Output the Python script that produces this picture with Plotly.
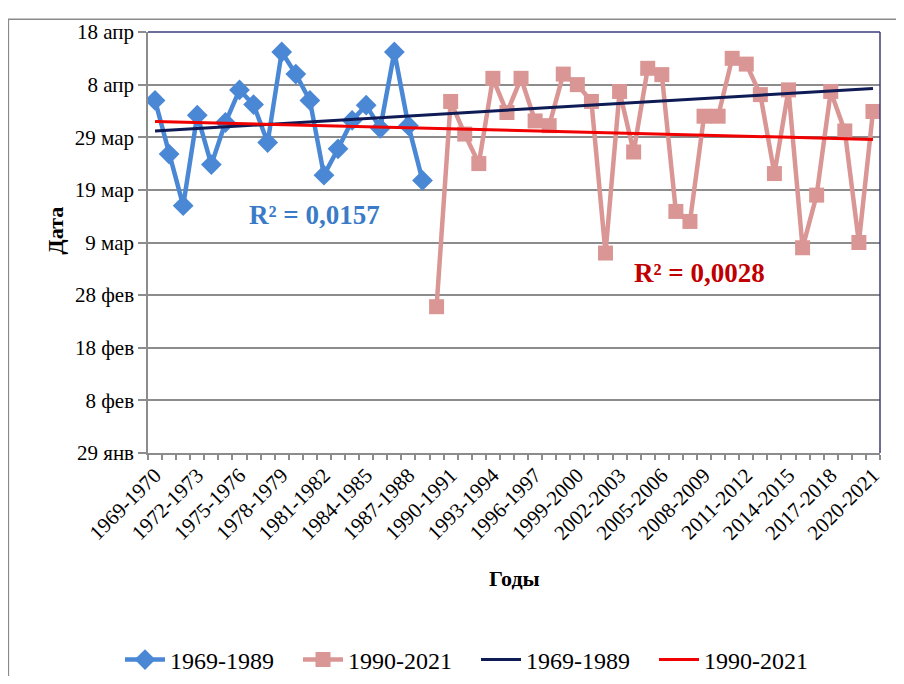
import numpy as np
import plotly.graph_objects as go

# Categories: seasons 1969-1970 ... 2020-2021
seasons = [f"{y}-{y+1}" for y in range(1969, 2021)]

# Y axis: days counted from 29 Jan (0) to 18 Apr (80)
y_tickvals = [0, 10, 20, 30, 40, 50, 60, 70, 80]
y_ticktext = ["29 янв", "8 фев", "18 фев", "28 фев", "9 мар", "19 мар", "29 мар", "8 апр", "18 апр"]

# Series 1969-1989 (days after 29 Jan)
early_vals = [67.0, 56.8, 47.0, 64.2, 54.8, 62.8, 69.0, 66.2, 59.0, 76.2,
              72.0, 67.0, 52.8, 57.8, 63.2, 66.1, 61.7, 76.2, 62.2, 51.8]
# Series 1990-2021
late_vals = [27.8, 66.8, 60.6, 55.0, 71.2, 64.7, 71.2, 63.1, 62.2, 72.0,
             70.0, 66.8, 38.0, 68.7, 57.2, 73.1, 71.9, 45.9, 44.0, 64.0,
             64.0, 75.0, 73.9, 68.1, 53.1, 69.0, 39.0, 49.0, 68.7, 61.2,
             40.0, 64.9]

legend_names = ["1969-1989", "1990-2021", "1969-1989", "1990-2021"]
r2_texts = ["R² = 0,0157", "R² = 0,0028"]

n = len(seasons)
x_all = np.arange(n)
x_early = np.arange(len(early_vals))
x_late = np.arange(len(early_vals), len(early_vals) + len(late_vals))

# Linear trends (Excel-style, extended over the whole axis)
pe = np.polyfit(x_early, early_vals, 1)
pl = np.polyfit(x_late, late_vals, 1)
trend_e = np.polyval(pe, x_all)
trend_l = np.polyval(pl, x_all)

FONT = "'Liberation Serif', 'Times New Roman', Times, serif"
BLUE = "#4A88D6"
PINK = "#DA9694"
NAVY = "#0E1B55"
RED = "#F00000"
GRID = "#8C8C8C"

fig = go.Figure()
fig.add_trace(go.Scatter(x=x_early, y=early_vals, mode="lines+markers", name=legend_names[0],
                         line=dict(color=BLUE, width=4.5),
                         marker=dict(symbol="diamond", size=16, color=BLUE)))
fig.add_trace(go.Scatter(x=x_late, y=late_vals, mode="lines+markers", name=legend_names[1],
                         line=dict(color=PINK, width=4.5),
                         marker=dict(symbol="square", size=15, color=PINK)))
fig.add_trace(go.Scatter(x=x_all, y=trend_e, mode="lines", name=legend_names[2],
                         line=dict(color=NAVY, width=3)))
fig.add_trace(go.Scatter(x=x_all, y=trend_l, mode="lines", name=legend_names[3],
                         line=dict(color=RED, width=3)))

OFF = 8  # page body margin
W, H = 904 - 2 * OFF, 684 - 2 * OFF
L, T = 148 - OFF, 26 - OFF
R = (904 - OFF) - 882
B = (684 - OFF) - 453
pw, ph = W - L - R, H - T - B

def px(xp):
    return (xp - OFF - L) / pw

def py(yp):
    return (H - B - (yp - OFF)) / ph

def cx(xp):
    return (xp - OFF) / W

def cy(yp):
    return (H - (yp - OFF)) / H

fig.update_layout(
    width=W, height=H,
    margin=dict(l=L, r=R, t=T, b=B),
    paper_bgcolor="white", plot_bgcolor="white",
    font=dict(family=FONT, color="black"),
    showlegend=True,
    legend=dict(orientation="h", xref="container", yref="container",
                x=cx(120), xanchor="left", y=cy(660), yanchor="middle",
                font=dict(family=FONT, size=24, color="black"), itemwidth=40,
                entrywidth=123, bgcolor="rgba(0,0,0,0)"),
    xaxis=dict(range=[-0.5, n - 0.5], tickmode="array",
               tickvals=list(range(0, n, 3)), ticktext=[seasons[i] for i in range(0, n, 3)],
               tickangle=-45, ticks="", tickfont=dict(family=FONT, size=21, color="black"),
               showgrid=False, zeroline=False, showline=True, linecolor=GRID, linewidth=1.5,
               minor=dict(tickmode="linear", tick0=-0.5, dtick=1, ticks="outside", ticklen=5,
                          tickcolor=GRID, tickwidth=1.5, showgrid=False)),
    yaxis=dict(range=[0, 80], tickmode="array", tickvals=y_tickvals, ticktext=y_ticktext,
               ticks="outside", ticklen=8, tickcolor=GRID, tickwidth=1.5,
               tickfont=dict(family=FONT, size=21, color="black"),
               showgrid=True, gridcolor=GRID, gridwidth=1.5, zeroline=False,
               showline=True, linecolor=GRID, linewidth=1.5),
)

# plot-area frame: top and right in navy
fig.add_shape(type="line", xref="paper", yref="paper", x0=0, x1=1, y0=1, y1=1,
              line=dict(color="#3C3C7C", width=1.5), layer="above")
fig.add_shape(type="line", xref="paper", yref="paper", x0=1, x1=1, y0=0, y1=1,
              line=dict(color="#3C3C7C", width=1.5), layer="above")
# outer chart frame (partly cropped)
fig.add_shape(type="rect", xref="paper", yref="paper", x0=px(8), x1=px(915),
              y0=py(700), y1=py(13), line=dict(color="#8A8A8A", width=1.5), layer="below")

# axis titles
fig.add_annotation(text="<b>Дата</b>", xref="paper", yref="paper", x=px(55), y=py(227),
                   xanchor="center", yanchor="middle",
                   textangle=-90, showarrow=False, font=dict(family=FONT, size=22, color="black"))
fig.add_annotation(text="<b>Годы</b>", xref="paper", yref="paper", x=px(515), y=py(580),
                   xanchor="center", yanchor="middle",
                   showarrow=False, font=dict(family=FONT, size=22, color="black"))

# R² labels
fig.add_annotation(text=f"<b>{r2_texts[0]}</b>", x=11.3, y=45.2, xref="x", yref="y",
                   xanchor="center", yanchor="middle",
                   showarrow=False, font=dict(family=FONT, size=27, color="#3A7BC8"))
fig.add_annotation(text=f"<b>{r2_texts[1]}</b>", x=38.65, y=34.3, xref="x", yref="y",
                   xanchor="center", yanchor="middle",
                   showarrow=False, font=dict(family=FONT, size=27, color="#C00000"))

fig.write_html("out.html")
